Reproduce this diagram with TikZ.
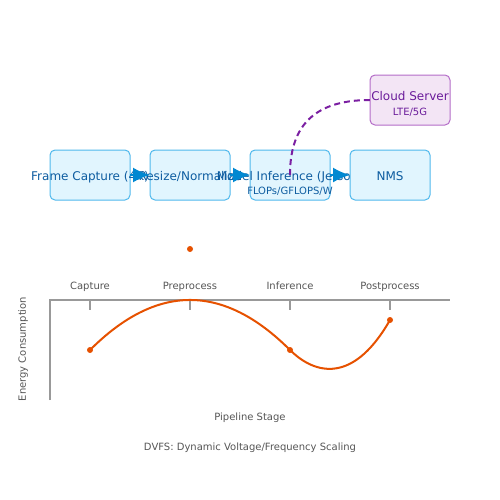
\documentclass[tikz,border=0pt]{standalone}
\usepackage{fontspec}
\setmainfont{DejaVu Sans}
\usetikzlibrary{arrows.meta}
\usetikzlibrary{positioning}
\definecolor{stagefill}{HTML}{E1F5FE}
\definecolor{stageline}{HTML}{4FB8EC}
\definecolor{stageink}{HTML}{0D5CA0}
\definecolor{flowblue}{HTML}{0288D1}
\definecolor{cloudfill}{HTML}{F3E5F5}
\definecolor{cloudline}{HTML}{B46CC8}
\definecolor{cloudink}{HTML}{6A1B9A}
\definecolor{linkpurple}{HTML}{7B1FA2}
\definecolor{energy}{HTML}{E65100}
\definecolor{axisgray}{HTML}{999999}
\definecolor{axisink}{HTML}{555555}
\tikzset{stage/.style = {draw = stageline, fill = stagefill, line width = 0.75pt, rounded corners = 3.75pt, minimum width = 60pt, minimum height = 37.5pt, inner sep = 0, outer sep = 0}}
\tikzset{cloudbox/.style = {stage, draw = cloudline, fill = cloudfill}}
\tikzset{stagetext/.style = {text = stageink, font = \fontsize{9pt}{10pt}\selectfont, anchor = base, inner sep = 0}}
\tikzset{subtext/.style = {stagetext, font = \fontsize{7.5pt}{8pt}\selectfont}}
\tikzset{flow/.style = {draw = flowblue, line width = 1.5pt, -{Latex[length = 12.75pt, width = 11.25pt]}}}
\tikzset{dot/.style = {fill = energy, circle, inner sep = 0, minimum size = 4.5pt}}
\tikzset{axis/.style = {draw = axisgray, line width = 1.5pt}}
\tikzset{axislabel/.style = {text = axisink, font = \fontsize{7.5pt}{8pt}\selectfont, anchor = base, inner sep = 0}}

\begin{document}
\begin{tikzpicture}[x = 0.75pt, y = -0.75pt]
    \useasboundingbox (0, 0) rectangle (500, 500);
    % pipeline
    \node [stage] (capture) at (90, 175) {};
    \node [stagetext] (capturetext) at (90, 180) {Frame Capture (4K)};
    \node [stage, right = 15pt of capture] (resize) {};
    \node [stagetext] (resizetext) at (190, 180) {Resize/Normalize};
    \node [stage, right = 15pt of resize] (inference) {};
    \node [stagetext] (inferencetext) at (290, 180) {Model Inference (Jetson)};
    \node [subtext] (flops) at (290, 194) {FLOPs/GFLOPS/W};
    \node [stage, right = 15pt of inference] (nms) {};
    \node [stagetext] (nmstext) at (390, 180) {NMS};
    \node [cloudbox] (cloud) at (410, 100) {};
    \node [stagetext, text = cloudink] (cloudtext) at (410, 100) {Cloud Server};
    \node [subtext, text = cloudink] (lte) at (410, 115) {LTE/5G};
    \draw [flow] (capture) -- (resize);
    \draw [flow] (resize) -- (inference);
    \draw [flow] (inference) -- (nms);
    \draw [linkpurple, line width = 1.5pt, dash pattern = on 4.5pt off 3pt] (inference.center) .. controls +(0, -45) and +(-60, 0) .. (cloud.west);
    % energy plot
    \draw [axis] (50, 400) -- (50, 300) -- (450, 300);
    \foreach \x/\stagename in {90/Capture, 190/Preprocess, 290/Inference, 390/Postprocess} {
      \draw [axis] (\x, 300) -- (\x, 310);
      \node [axislabel] at (\x, 289.5) {\stagename};
    }
    \node [axislabel, rotate = 90] (ylabel) at (26, 349) {Energy Consumption};
    \node [axislabel] (xlabel) at (250, 420) {Pipeline Stage};
    \node [axislabel] (caption) at (250, 450) {DVFS: Dynamic Voltage/Frequency Scaling};
    \node [dot] (peak) at (190, 249) {};
    \node [dot] (capturept) at (90, 350) {};
    \node [dot] (inferencept) at (290, 350) {};
    \node [dot] (postpt) at (390, 320) {};
    \draw [energy, line width = 1.5pt] (capturept.center) .. controls (156.7, 283.3) and (223.3, 283.3) .. (inferencept.center) .. controls (310, 370) and (350, 390) .. (postpt.center);
  \end{tikzpicture}
\end{document}
